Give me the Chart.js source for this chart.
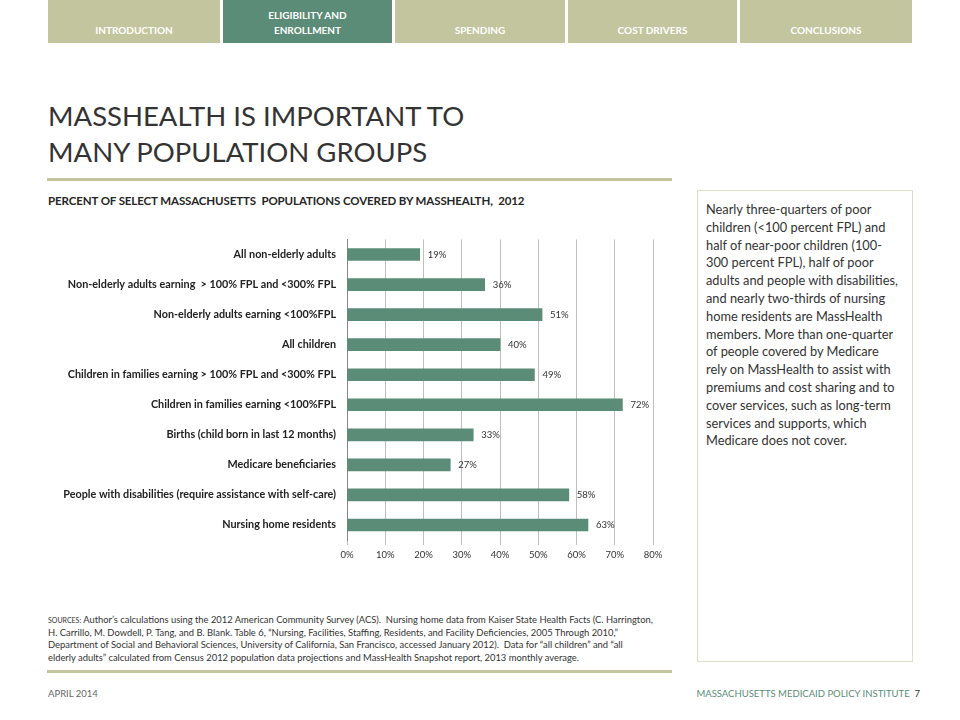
<!DOCTYPE html>
<html>
<head>
<meta charset="utf-8">
<script src="https://cdn.jsdelivr.net/npm/chart.js@4"></script>
<style>
	body { margin: 0; width: 960px; height: 720px; background: #fff; position: relative; overflow: hidden; font-family: "Lato", "Open Sans", sans-serif; color: #333; }
	.tab { position: absolute; top: 0; height: 43px; background: #c2c59e; color: #fff; font-weight: bold; font-size: 10px; text-align: center; display: flex; align-items: flex-end; justify-content: center; padding-bottom: 5px; box-sizing: border-box; line-height: 15px; }
	.tab.on { background: #5b8c77; }
	h1 { position: absolute; left: 48px; top: 98px; margin: 0; font-weight: normal; font-size: 27.5px; line-height: 36px; color: #333; }
	.rule { position: absolute; left: 47px; width: 625px; height: 3px; background: #c2c59e; }
	.sub { position: absolute; left: 48px; top: 194px; font-size: 11.5px; font-weight: bold; color: #262626; letter-spacing: -0.1px; }
	.panel { position: absolute; left: 697px; top: 190px; width: 216px; height: 472px; border: 1px solid #dcdec8; box-sizing: border-box; padding: 10px 8px; font-size: 12.8px; line-height: 17.8px; color: #333; white-space: nowrap; }
	.src { position: absolute; left: 48px; top: 614px; font-size: 9.4px; line-height: 12.7px; color: #333; white-space: nowrap; }
	.foot { position: absolute; top: 688px; font-size: 9.5px; color: #666; }
	#wrap { position: absolute; left: 40px; top: 222px; width: 640px; height: 343px; }
</style>
</head>
<body>
<div class="tab" style="left:48px;width:172px">INTRODUCTION</div>
<div class="tab on" style="left:223px;width:169px">ELIGIBILITY AND<br>ENROLLMENT</div>
<div class="tab" style="left:395px;width:170px">SPENDING</div>
<div class="tab" style="left:568px;width:169px">COST DRIVERS</div>
<div class="tab" style="left:740px;width:172px">CONCLUSIONS</div>

<h1>MASSHEALTH IS IMPORTANT TO<br>MANY POPULATION GROUPS</h1>
<div class="rule" style="top:178px"></div>
<div class="sub">PERCENT OF SELECT MASSACHUSETTS&nbsp; POPULATIONS COVERED BY MASSHEALTH,&nbsp; 2012</div>

<div id="wrap"><canvas id="chart"></canvas></div>

<div class="panel">Nearly three-quarters of poor<br>children (&lt;100 percent FPL) and<br>half of near-poor children (100-<br>300 percent FPL), half of poor<br>adults and people with disabilities,<br>and nearly two-thirds of nursing<br>home residents are MassHealth<br>members. More than one-quarter<br>of people covered by Medicare<br>rely on MassHealth to assist with<br>premiums and cost sharing and to<br>cover services, such as long-term<br>services and supports, which<br>Medicare does not cover.</div>

<div class="src"><span style="font-size:7px">SOURCES:</span> Author’s calculations using the 2012 American Community Survey (ACS).&nbsp; Nursing home data from Kaiser State Health Facts (C. Harrington,<br>H. Carrillo, M. Dowdell, P. Tang, and B. Blank. Table 6, “Nursing, Facilities, Staffing, Residents, and Facility Deficiencies, 2005 Through 2010,”<br>Department of Social and Behavioral Sciences, University of California, San Francisco, accessed January 2012).&nbsp; Data for “all children” and “all<br>elderly adults” calculated from Census 2012 population data projections and MassHealth Snapshot report, 2013 monthly average.</div>
<div class="rule" style="top:670px"></div>
<div class="foot" style="left:48px">APRIL 2014</div>
<div class="foot" style="right:40px;color:#5b8c77">MASSACHUSETTS MEDICAID POLICY INSTITUTE&nbsp; <span style="color:#333">7</span></div>

<script>
const categories = [
	"All non-elderly adults",
	"Non-elderly adults earning  > 100% FPL and <300% FPL",
	"Non-elderly adults earning <100%FPL",
	"All children",
	"Children in families earning > 100% FPL and <300% FPL",
	"Children in families earning <100%FPL",
	"Births (child born in last 12 months)",
	"Medicare beneficiaries",
	"People with disabilities (require assistance with self-care)",
	"Nursing home residents"
]
const coverage = [19, 36, 51, 40, 49, 72, 33, 27, 58, 63]
const labels = coverage.map(v => v + "%")

const valueLabels = {
	id: "valueLabels",
	afterDatasetsDraw(chart) {
		const ctx = chart.ctx
		const meta = chart.getDatasetMeta(0)
		ctx.save()
		ctx.font = "9.5px Lato, sans-serif"
		ctx.fillStyle = "#333"
		ctx.textBaseline = "middle"
		meta.data.forEach((bar, i) => {
			ctx.fillText(labels[i], bar.x + 8, bar.y)
		})
		ctx.restore()
	}
}

new Chart(document.getElementById("chart"), {
	type: "bar",
	data: {
		labels: categories,
		datasets: [{
			data: coverage,
			backgroundColor: "#5b8c77",
			barThickness: 12
		}]
	},
	options: {
		indexAxis: "y",
		responsive: true,
		maintainAspectRatio: false,
		animation: false,
		layout: { padding: { top: 0, right: 27 } },
		plugins: { legend: { display: false }, tooltip: { enabled: false } },
		scales: {
			x: {
				min: 0,
				max: 80,
				ticks: { stepSize: 10, callback: v => v + "%", color: "#333", font: { size: 9.5, family: "Lato" }, padding: 4 },
				grid: { color: "#bfbfbf", tickLength: 5 },
				border: { display: false },
				afterFit: s => { s.height = 25 }
			},
			y: {
				ticks: { color: "#222", font: { size: 10.8, family: "Lato", weight: "bold" }, padding: 11 },
				grid: { display: false, drawTicks: false },
				border: { color: "#888" },
				afterFit: s => { s.width = 307 }
			}
		}
	},
	plugins: [valueLabels]
})
</script>
</body>
</html>
